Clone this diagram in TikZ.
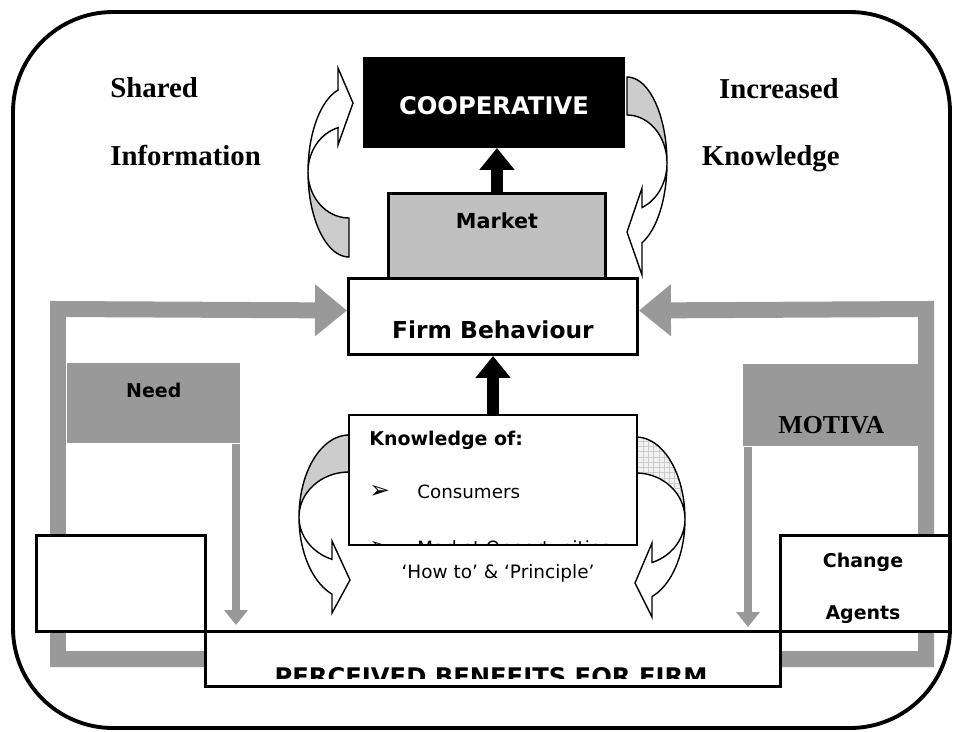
\documentclass[tikz,border=0pt]{standalone}
\usepackage{fontspec}
\setmainfont{Liberation Serif}
\setsansfont{DejaVu Sans}
\usetikzlibrary{arrows.meta, patterns, backgrounds}
\definecolor{bargray}{HTML}{999999}
\definecolor{marketgray}{HTML}{C0C0C0}
\definecolor{bandgray}{HTML}{CCCCCC}

\begin{document}
\begin{tikzpicture}[x=0.02cm, y=-0.02cm]
    \tikzstyle{plainbox} = [rectangle, anchor=north west, inner sep=0pt, draw=black, fill=white, line width=1.7pt]
    \tikzstyle{coopbox} = [plainbox, fill=black, text=white, minimum width=5.18cm, minimum height=1.76cm, text height=0.48cm, text depth=0cm, font=\sffamily\bfseries\fontsize{13.8}{16}\selectfont]
    \tikzstyle{marketbox} = [plainbox, fill=marketgray, minimum width=4.34cm, minimum height=1.7cm, text height=0cm, text depth=0.28cm, font=\sffamily\bfseries\fontsize{11.8}{14}\selectfont]
    \tikzstyle{firmbox} = [plainbox, minimum width=5.78cm, minimum height=1.52cm, text height=0.88cm, text depth=0cm, font=\sffamily\bfseries\fontsize{13.3}{16}\selectfont]
    \tikzstyle{knowbox} = [plainbox, line width=1.2pt, minimum width=5.76cm, minimum height=2.6cm]
    \tikzstyle{sidebox} = [plainbox, minimum width=3.38cm, minimum height=1.92cm]
    \tikzstyle{benefitbox} = [plainbox, minimum width=11.5cm, minimum height=1.1cm]
    \tikzstyle{grayblock} = [rectangle, anchor=north west, inner sep=0pt, fill=bargray]
    \tikzstyle{sidelabel} = [inner sep=0pt, font=\bfseries\fontsize{16.4}{19}\selectfont]
    \tikzstyle{boxtext} = [inner sep=0pt, anchor=base west, font=\sffamily\fontsize{10.4}{12}\selectfont]
    \tikzstyle{bullet} = [boxtext, font=\sffamily\fontsize{14}{16}\selectfont]
    \tikzstyle{boldtext} = [inner sep=0pt, anchor=base, font=\sffamily\bfseries\fontsize{10.8}{13}\selectfont]
    \tikzstyle{curvearrow} = [draw=black, line width=0.8pt, fill=white]
    \tikzstyle{curveback} = [curvearrow, fill=bandgray]
    \tikzstyle{curvegrid} = [curvearrow, preaction={fill=gray!10}, pattern=grid, pattern color=gray!40]
    \tikzstyle{blackarrow} = [line width=0.24cm, -{Triangle[width=0.68cm, length=0.44cm]}]
    \tikzstyle{graybar} = [draw=bargray, line width=0.32cm, -{Triangle[width=1cm, length=0.64cm]}]
    \tikzstyle{thinbar} = [draw=bargray, line width=0.16cm, -{Triangle[width=0.46cm, length=0.3cm]}]

    \useasboundingbox (0,0) rectangle (960,731);
    \draw [line width=2.2pt, rounded corners=2cm] (13,12) rectangle (950,728);

    \filldraw [curveback] plot[domain=90:180] ({349+41*cos(\x)},{172+85*sin(\x)}) -- plot[domain=180:90] ({349+41*cos(\x)},{172+46*sin(\x)}) -- cycle;
    \filldraw [curvearrow] plot[domain=180:254.5] ({349+41*cos(\x)},{172+85*sin(\x)}) -- (338,68) -- (353,103) -- (338,145) -- plot[domain=254.5:180] ({349+41*cos(\x)},{172+46*sin(\x)}) -- cycle;
    \filldraw [curveback] plot[domain=270:360] ({627+40*cos(\x)},{163+86*sin(\x)}) -- plot[domain=360:270] ({627+40*cos(\x)},{163+48*sin(\x)}) -- cycle;
    \filldraw [curvearrow] plot[domain=360:428] ({627+40*cos(\x)},{163+86*sin(\x)}) -- (642,275) -- (627,232) -- (642,188) -- plot[domain=428:360] ({627+40*cos(\x)},{163+48*sin(\x)}) -- cycle;
    \filldraw [curveback] plot[domain=270:180] ({349+50*cos(\x)},{517+82*sin(\x)}) -- plot[domain=180:270] ({349+50*cos(\x)},{517+45*sin(\x)}) -- cycle;
    \filldraw [curvearrow] plot[domain=180:109.9] ({349+50*cos(\x)},{517+82*sin(\x)}) -- (332,613) -- (350,580) -- (332,541) -- plot[domain=109.9:180] ({349+50*cos(\x)},{517+45*sin(\x)}) -- cycle;
    \filldraw [curvegrid] plot[domain=270:360] ({636+49*cos(\x)},{519+82*sin(\x)}) -- plot[domain=360:270] ({636+49*cos(\x)},{519+46*sin(\x)}) -- cycle;
    \filldraw [curvearrow] plot[domain=360:430.9] ({636+49*cos(\x)},{519+82*sin(\x)}) -- (652,617) -- (635,583) -- (652,543) -- plot[domain=430.9:360] ({636+49*cos(\x)},{519+46*sin(\x)}) -- cycle;

    \node (coop) [coopbox] at (363,57) {COOPERATIVE};
    \node (market) [marketbox] at (387,192) {Market};
    \node (firm) [firmbox] at (347,277) {Firm Behaviour};
    \node (know) [knowbox] at (348,414) {};
    \node (need) [grayblock, minimum width=3.46cm, minimum height=1.6cm, text height=0cm, text depth=0.24cm, font=\sffamily\bfseries\fontsize{10.8}{13}\selectfont] at (67,363) {Need};
    \node (motiva) [grayblock, minimum width=3.52cm, minimum height=1.64cm, text height=1.12cm, text depth=0cm, font=\bfseries\fontsize{14.7}{17}\selectfont] at (743,364) {MOTIVA};
    \node (blank) [sidebox] at (35,534) {};
    \node (agents) [sidebox] at (779,534) {};
    \node (benefits) [benefitbox] at (204,630) {};

    \node (shared) [sidelabel, anchor=base west] at (110,97) {Shared};
    \node (information) [sidelabel, anchor=base west] at (110,165) {Information};
    \node (increased) [sidelabel, anchor=base east] at (839,98) {Increased};
    \node (knowledge) [sidelabel, anchor=base east] at (840,165) {Knowledge};

    \node (knowtitle) [boxtext, font=\sffamily\bfseries\fontsize{10.8}{13}\selectfont] at (369,445) {Knowledge of:};
    \node (bulletone) [bullet] at (369,498) {➢};
    \node (consumers) [boxtext] at (417,498) {Consumers};
    \begin{scope}
        \clip (know.north west) rectangle ([yshift=0.03cm]know.south east);
        \node (bullettwo) [bullet] at (369,554) {➢};
        \node (opportunities) [boxtext] at (417,554) {Market Opportunities};
    \end{scope}
    \node (howto) [boxtext, anchor=base, font=\sffamily\fontsize{10.5}{12}\selectfont] at (498,578) {‘How to’ \& ‘Principle’};

    \begin{scope}
        \clip (agents.north west) rectangle ([yshift=0.2cm]agents.south east);
        \node (change) [boldtext] at (863,567) {Change};
        \node (agentword) [boldtext] at (863,619) {Agents};
    \end{scope}
    \begin{scope}
        \clip (benefits.north west) rectangle ([yshift=0.18cm]benefits.south east);
        \node (benefitstext) [boldtext, font=\sffamily\bfseries\fontsize{13.8}{16}\selectfont] at (491,685) {PERCEIVED BENEFITS FOR FIRM};
    \end{scope}

    \draw [blackarrow] (market.north) -- (market.north |- coop.south);
    \draw [blackarrow] (know.north) -- (know.north |- firm.south);

    \coordinate (leftturn) at (58,309);
    \coordinate (rightturn) at (926,309);
    \begin{scope}[on background layer]
        \draw [graybar] (benefits.west) -| (leftturn) -- ([yshift=0.12cm]firm.west);
        \draw [graybar] (benefits.east) -| (rightturn) -- ([yshift=0.12cm]firm.east);
    \end{scope}

    \coordinate (needtip) at (236,625);
    \coordinate (motivatip) at (748,627);
    \draw [thinbar] (needtip |- need.south) -- (needtip);
    \draw [thinbar] (motivatip |- motiva.south) -- (motivatip);
\end{tikzpicture}
\end{document}
